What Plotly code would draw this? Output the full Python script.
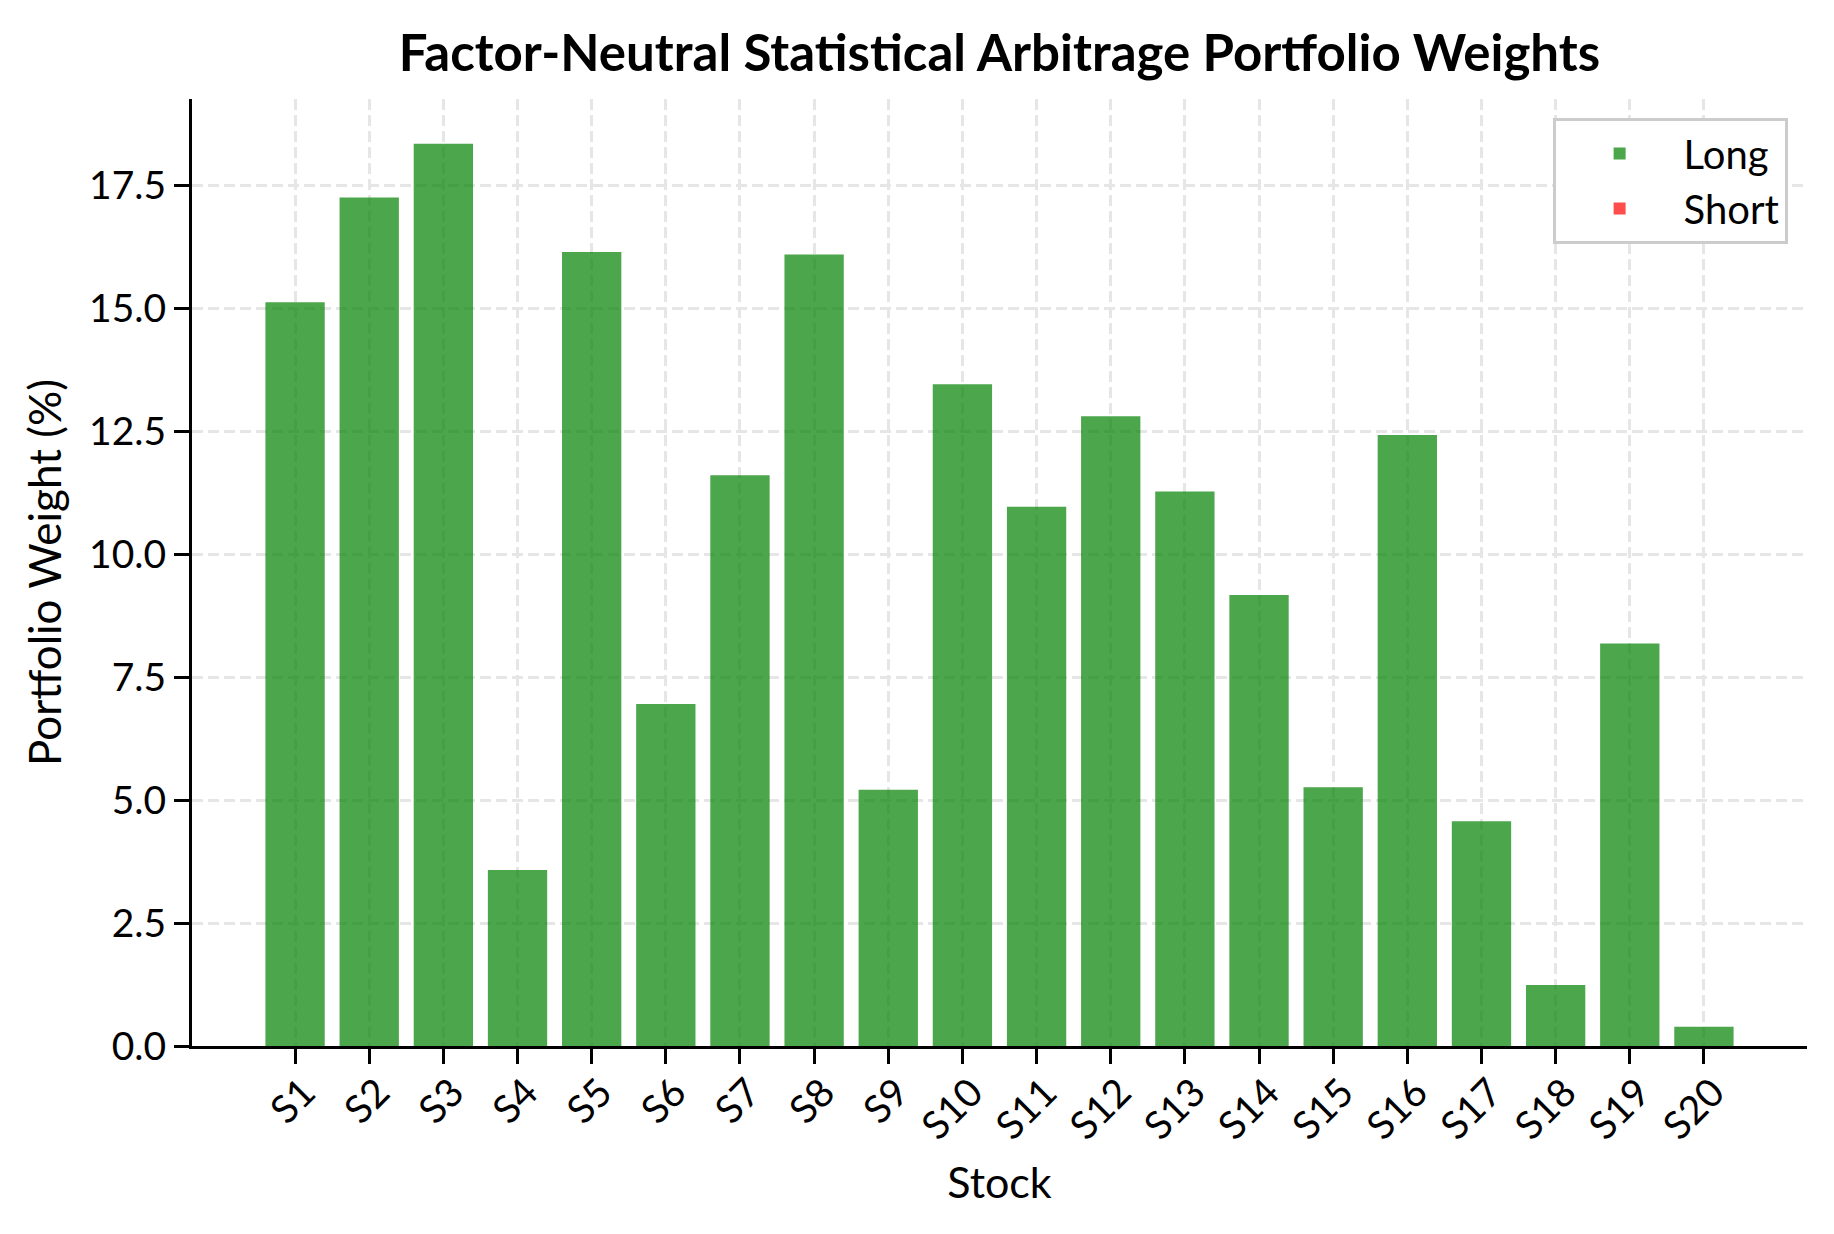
import plotly.graph_objects as go

# portfolio weights (%)
stocks = [f"S{i}" for i in range(1, 21)]
long_weights = [15.12, 17.25, 18.34, 3.58, 16.14, 6.95, 11.60, 16.09, 5.21, 13.45,
                10.96, 12.80, 11.27, 9.17, 5.26, 12.42, 4.57, 1.24, 8.18, 0.39]
short_weights = [0.0, 0.0, 0.0, 0.0, 0.0, 0.0, 0.0, 0.0, 0.0, 0.0,
                 0.0, 0.0, 0.0, 0.0, 0.0, 0.0, 0.0, 0.0, 0.0, 0.0]
y_ticks = [0.0, 2.5, 5.0, 7.5, 10.0, 12.5, 15.0, 17.5]

FONT = "Source Sans Pro, Lato, sans-serif"

fig = go.Figure()
fig.add_trace(go.Bar(x=stocks, y=long_weights, name="Long",
                     marker=dict(color="rgba(0,128,0,0.7)", line=dict(width=0))))
fig.add_trace(go.Bar(x=stocks, y=short_weights, name="Short",
                     marker=dict(color="rgba(255,0,0,0.7)", line=dict(width=0))))

axis_common = dict(
    showline=True, linecolor="black", linewidth=3,
    ticks="outside", ticklen=15, tickwidth=3, tickcolor="black",
    showgrid=True, gridcolor="#e6e6e6", gridwidth=2.5, griddash="11px,5px",
    zeroline=False, mirror=False,
    tickfont=dict(family=FONT, size=39, color="black"),
)

fig.update_xaxes(**axis_common, type="category", range=[-1.39, 20.39],
                 tickangle=-45, ticklabelshift=9, ticklabelstandoff=-10,
                 title=dict(text="Stock", font=dict(family=FONT, size=43, color="black"),
                            standoff=22))
fig.update_yaxes(**axis_common, range=[0, 19.25], tickvals=y_ticks,
                 ticktext=[f"{v:.1f}" for v in y_ticks],
                 title=dict(text="Portfolio Weight (%)",
                            font=dict(family=FONT, size=44, color="black"), standoff=14))

# page adds an 8px body margin, so the figure is 8px smaller than the window
fig.update_layout(
    width=1826, height=1226,
    margin=dict(l=184, r=27, t=91, b=188),
    barmode="relative", bargap=0.2,
    plot_bgcolor="white", paper_bgcolor="white",
    title=dict(text="<b>Factor-Neutral Statistical Arbitrage Portfolio Weights</b>",
               x=0.5, xref="paper", xanchor="center", y=0.963, yanchor="middle",
               font=dict(family=FONT, size=51, color="black")),
    legend=dict(x=0.988, y=0.98, xanchor="right", yanchor="top",
                bgcolor="white", bordercolor="#cccccc", borderwidth=3,
                font=dict(family=FONT, size=40, color="black"), itemwidth=118),
    font=dict(family=FONT),
)

fig.write_html("out.html")
